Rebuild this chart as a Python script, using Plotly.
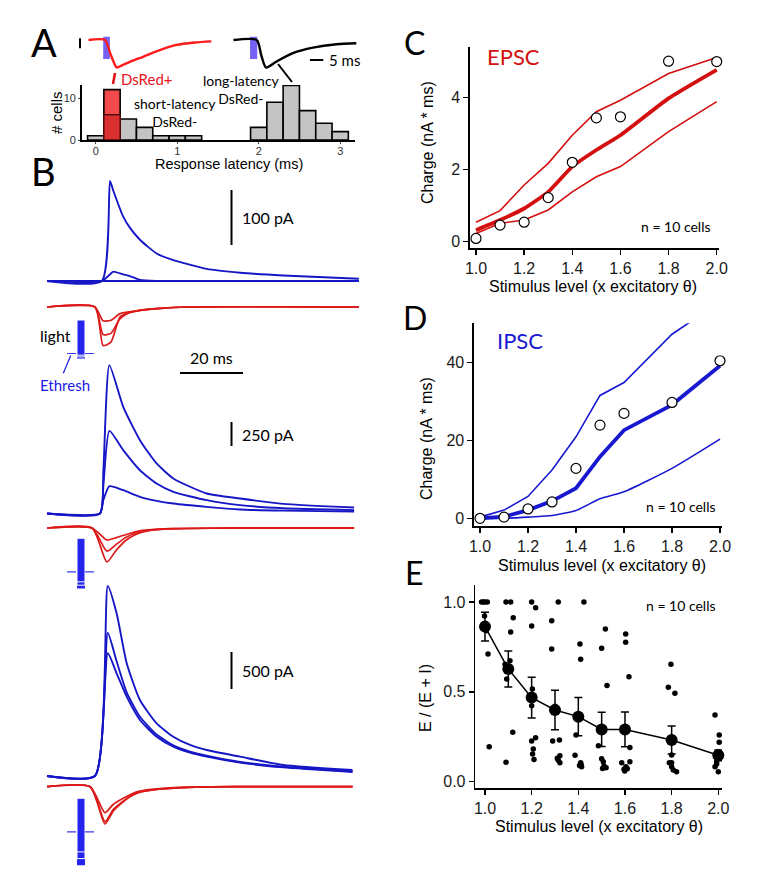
import plotly.graph_objects as go

W, H = 764, 883

# ======================= DATA =======================
# ---- Panel A: latency histogram (# cells per 0.2 ms bin) ----
HIST_CENTERS = [0.0, 0.4, 0.6, 0.8, 1.0, 1.2, 2.0, 2.2, 2.4, 2.6, 2.8, 3.0]
HIST_COUNTS = [1, 5, 3, 1, 1, 1, 3, 9, 13, 7, 4, 2]
DSRED_CENTER = [0.2]
DSRED_TOTAL = [12]
DSRED_LOWER = [6]
HIST_BIN_W = 0.2
HIST_XTICKS = [0, 1, 2, 3]
HIST_YTICKS = [0, 10]

# ---- Panel A: example responses (normalised current vs ms) ----
A_RED_T = [0, 6.3, 8.3, 10.7, 12.5, 16.0, 20.6, 26.9, 33.1, 40.0, 46.3]
A_RED_V = [0, 0, -0.5, -1.0, -0.93, -0.78, -0.61, -0.37, -0.18, -0.09, -0.05]
A_BLK_T = [0, 8.8, 10.5, 12.3, 16.3, 22.4, 29.9, 38.8, 46.3]
A_BLK_V = [0, 0, -0.55, -1.0, -0.78, -0.48, -0.28, -0.155, -0.12]
A_LIGHT_RED = [5.6, 8.1]
A_LIGHT_BLK = [6.3, 9.0]
A_TIME_BAR_MS = 5

# ---- Panel B: recorded currents (pA vs ms) ----
B1_T = [0, 17.4, 20.0, 21.0, 24.2, 26.3, 29.5, 34.8, 40.1, 50.7, 61.3, 75.0, 99.0]
B1_BIG = [0, 0, 182, 165, 117, 97, 75, 50, 38, 22, 15, 10, 4]
B1_SMALL = [0, 0, 12, 17, 12, 9, 2, 0, 0, 0, 0, 0, 0]
B1_FLAT = [0, 0, 0, 0, 0, 0, 0, 0, 0, 0, 0, 0, 0]
B1R_T = [0, 15.2, 17.8, 20.3, 23.2, 26.0, 29.5, 34.8, 45.0, 99.0]
B1R_BIG = [0, 0, -70, -64, -18, -10, -6, -3, 0, 0]
B1R_MID = [0, 0, -50, -48, -21, -11, -6, -3, 0, 0]
B1R_SMALL = [0, 0, -25, -24, -12, -9, -6, -3, 0, 0]

B2_T = [0, 16.8, 17.9, 19.8, 24.2, 29.5, 34.8, 40.1, 50.7, 61.3, 75.0, 97.5]
B2_BIG = [0, 0, 450, 1545, 1111, 764, 521, 365, 208, 156, 100, 62]
B2_MID = [0, 0, 300, 860, 660, 451, 313, 226, 139, 87, 55, 35]
B2_SMALL = [0, 0, 140, 285, 243, 174, 132, 104, 69, 42, 30, 20]
B2R_T = [0, 14.3, 19.0, 22.0, 25.0, 28.0, 32.0, 40.0, 60.0, 97.5]
B2R_BIG = [0, 0, -354, -230, -130, -70, -30, -8, 0, 0]
B2R_MID = [0, 0, -240, -170, -100, -55, -25, -7, 0, 0]
B2R_SMALL = [0, 0, -125, -100, -70, -40, -20, -6, 0, 0]

B3_T = [0, 15.2, 19.3, 22.1, 25.3, 29.5, 34.8, 40.1, 45.4, 50.7, 61.3, 75.0, 97.0]
B3_BIG = [0, 0, 2568, 2199, 1523, 1027, 712, 531, 419, 351, 261, 149, 81]
B3_MID = [0, 0, 1932, 1550, 1130, 800, 560, 415, 330, 275, 190, 125, 63]
B3_SMALL = [0, 0, 1658, 1388, 1072, 757, 531, 396, 315, 261, 180, 117, 54]
B3R_T = [0, 13.7, 18.4, 21.0, 24.2, 27.0, 29.5, 34.8, 45.0, 60.0, 97.0]
B3R_BIG = [0, 0, -504, -330, -203, -120, -75, -36, -8, 0, 0]
B3R_MID = [0, 0, -473, -310, -195, -115, -72, -35, -8, 0, 0]
B3R_SMALL = [0, 0, -351, -240, -157, -95, -60, -30, -7, 0, 0]

B_SCALE_PA = [100, 250, 500]
B_TIME_BAR_MS = 20
# light intensity (x threshold) for the three sweeps of each example
LIGHT_LEVELS = [[1.15, 1.10, 1.05], [1.50, 1.40, 1.30], [2.00, 1.80, 1.60]]
LIGHT_THRESH = 1.0

# ---- Panel C: EPSC charge ----
STIM = [1.0, 1.1, 1.2, 1.3, 1.4, 1.5, 1.6, 1.8, 2.0]
STIM_TICKS = [1.0, 1.2, 1.4, 1.6, 1.8, 2.0]
STIM_TICKTEXT = ["1.0", "1.2", "1.4", "1.6", "1.8", "2.0"]
C_MEDIAN = [0.09, 0.46, 0.54, 1.22, 2.2, 3.43, 3.46, 5.0, 4.99]
C_MEAN = [0.32, 0.6, 0.92, 1.38, 2.08, 2.54, 2.95, 3.97, 4.76]
C_UPPER = [0.54, 0.86, 1.57, 2.17, 2.95, 3.6, 3.92, 4.66, 5.1]
C_LOWER = [0.23, 0.51, 0.6, 0.88, 1.38, 1.8, 2.08, 3.05, 3.88]
C_YTICKS = [0, 2, 4]

# ---- Panel D: IPSC charge ----
D_MEDIAN = [0.0, 0.3, 2.4, 4.2, 12.8, 23.9, 26.9, 29.7, 40.4]
D_MEAN = [0.0, 0.4, 2.1, 4.4, 7.7, 15.8, 22.6, 29.1, 39.1]
D_UPPER = [0.3, 2.1, 5.6, 12.4, 20.9, 31.5, 34.8, 47.2, 55.5]
D_LOWER = [0.0, 0.0, 0.3, 0.7, 2.0, 5.0, 6.8, 12.8, 20.3]
D_YTICKS = [0, 20, 40]

# ---- Panel E: E/(E+I) ----
E_MEAN = [0.863, 0.627, 0.468, 0.399, 0.362, 0.291, 0.291, 0.232, 0.147]
E_SEM = [0.08, 0.10, 0.113, 0.11, 0.106, 0.095, 0.097, 0.078, 0.03]
E_YTICKS = [0.0, 0.5, 1.0]
E_YTICKTEXT = ["0.0", "0.5", "1.0"]
E_CELL_X = [
    [0.985, 0.993, 1.0, 1.01, 0.998, 0.99, 1.005, 1.0, 1.013, 1.018],
    [1.09, 1.11, 1.121, 1.11, 1.107, 1.086, 1.093, 1.119, 1.09, 1.1],
    [1.2, 1.217, 1.2, 1.203, 1.2, 1.217, 1.2, 1.207, 1.204, 1.21],
    [1.314, 1.286, 1.286, 1.29, 1.319, 1.321, 1.314, 1.321, 1.3, 1.31],
    [1.424, 1.407, 1.41, 1.4, 1.39, 1.386, 1.41, 1.414, 1.412, 1.405],
    [1.516, 1.5, 1.523, 1.486, 1.5, 1.507, 1.504, 1.519, 1.51, 1.5],
    [1.603, 1.603, 1.617, 1.621, 1.586, 1.621, 1.604, 1.596, 1.599, 1.61],
    [1.797, 1.786, 1.814, 1.8, 1.79, 1.8, 1.8, 1.807, 1.821, 1.8],
    [1.986, 2.004, 2.004, 1.993, 1.986, 2.0, 2.019, 2.007, 2.0, 1.993],
]
E_CELL_Y = [
    [1.0, 1.0, 1.0, 1.0, 0.922, 0.87, 0.84, 0.85, 0.71, 0.195],
    [1.0, 1.0, 0.913, 0.833, 0.673, 0.653, 0.571, 0.275, 0.108, 0.62],
    [1.0, 0.968, 0.866, 0.516, 0.423, 0.245, 0.226, 0.182, 0.154, 0.124],
    [1.0, 0.896, 0.738, 0.226, 0.232, 0.145, 0.12, 0.106, 0.42, 0.13],
    [1.0, 0.766, 0.681, 0.36, 0.26, 0.147, 0.106, 0.083, 0.096, 0.09],
    [0.85, 0.742, 0.536, 0.2, 0.128, 0.111, 0.074, 0.078, 0.087, 0.29],
    [0.822, 0.776, 0.584, 0.191, 0.106, 0.111, 0.083, 0.069, 0.059, 0.072],
    [0.653, 0.525, 0.492, 0.148, 0.106, 0.106, 0.083, 0.065, 0.056, 0.23],
    [0.371, 0.26, 0.219, 0.111, 0.083, 0.056, 0.111, 0.148, 0.167, 0.098],
]

# ======================= STYLE =======================
ARIAL = "Liberation Sans, Arial, sans-serif"
CAL = "Lato, Open Sans, sans-serif"
BLUE_TR = "#1616c6"
RED_TR = "#dc1a1a"
LIGHT_BLUE = "#2424ee"
RED_C = "#d40f0f"
BLUE_D = "#1818d0"

fig = go.Figure()
layout = dict(width=W, height=H, margin=dict(l=0, r=0, t=0, b=0),
              paper_bgcolor="white", plot_bgcolor="rgba(0,0,0,0)",
              showlegend=False, barmode="overlay")
ann = []
shapes = []


def xn(n):
    return "x" if n == 1 else f"x{n}"


def yn(n):
    return "y" if n == 1 else f"y{n}"


def PX(p):
    return p / W


def PY(p):
    return 1 - p / H


def axes(n, xdom, ydom, xmap, ymap, xkw=None, ykw=None):
    v, p, s = xmap
    xr = [v - (p - xdom[0]) / s, v + (xdom[1] - p) / s]
    v, p, s = ymap
    top = v + (p - ydom[0]) / s
    bot = v - (ydom[1] - p) / s
    xa = dict(domain=[PX(xdom[0]), PX(xdom[1])], range=xr, anchor=yn(n),
              visible=False, showgrid=False, zeroline=False, fixedrange=True,
              automargin=False)
    ya = dict(domain=[PY(ydom[1]), PY(ydom[0])], range=[bot, top], anchor=xn(n),
              visible=False, showgrid=False, zeroline=False, fixedrange=True,
              automargin=False)
    if xkw:
        xa.update(xkw)
    if ykw:
        ya.update(ykw)
    layout["xaxis" if n == 1 else f"xaxis{n}"] = xa
    layout["yaxis" if n == 1 else f"yaxis{n}"] = ya


def text(x, y, s, size, color="black", family=CAL, xanchor="center", angle=0,
         xref="paper", yref="paper"):
    ann.append(dict(x=PX(x) if xref == "paper" else x,
                    y=PY(y) if yref == "paper" else y,
                    xref=xref, yref=yref, text=s, showarrow=False,
                    xanchor=xanchor, yanchor="middle", textangle=angle,
                    font=dict(size=size, color=color, family=family)))


def pline(x0, y0, x1, y1, color="black", width=2, dash=None, xref="paper", yref="paper"):
    d = dict(type="line", xref=xref, yref=yref,
             x0=PX(x0) if xref == "paper" else x0, x1=PX(x1) if xref == "paper" else x1,
             y0=PY(y0) if yref == "paper" else y0, y1=PY(y1) if yref == "paper" else y1,
             line=dict(color=color, width=width))
    if dash:
        d["line"]["dash"] = dash
    shapes.append(d)


def line(n, xs, ys, color, width=1.8, shape="spline", smoothing=0.6):
    fig.add_trace(go.Scatter(x=xs, y=ys, mode="lines", xaxis=xn(n), yaxis=yn(n),
                             line=dict(color=color, width=width, shape=shape, smoothing=smoothing),
                             hoverinfo="skip"))


def sci_axis(tickvals, ticktext):
    return dict(visible=True, showline=True, linecolor="black", linewidth=1.6,
                ticks="outside", ticklen=5, tickwidth=1.5, tickcolor="black",
                tickvals=tickvals, ticktext=ticktext,
                tickfont=dict(family=ARIAL, size=16, color="#1a1a1a"))


# ======================= PANEL A =======================
axes(1, (81.7, 355), (85, 140), (0, 95.7, 81.5), (0, 140, 4.2),
     xkw=dict(visible=True, showline=True, linecolor="black", linewidth=1.6,
              ticks="outside", ticklen=2, tickwidth=1, tickvals=HIST_XTICKS,
              ticktext=[str(v) for v in HIST_XTICKS], ticklabelstandoff=-2,
              tickfont=dict(family=ARIAL, size=11, color="#333")),
     ykw=dict(visible=True, showline=True, linecolor="black", linewidth=1.6,
              ticks="outside", ticklen=2, tickwidth=1, tickvals=HIST_YTICKS,
              ticktext=[str(v) for v in HIST_YTICKS],
              tickfont=dict(family=ARIAL, size=11, color="#333")))
fig.add_trace(go.Bar(x=HIST_CENTERS, y=HIST_COUNTS, width=HIST_BIN_W, xaxis="x", yaxis="y",
                     marker=dict(color="#c4c4c4", line=dict(color="black", width=1.6)),
                     hoverinfo="skip"))
fig.add_trace(go.Bar(x=DSRED_CENTER, y=DSRED_TOTAL, width=HIST_BIN_W, xaxis="x", yaxis="y",
                     marker=dict(color="#f24a4a", line=dict(color="black", width=1.6)),
                     hoverinfo="skip"))
fig.add_trace(go.Bar(x=DSRED_CENTER, y=DSRED_LOWER, width=HIST_BIN_W, xaxis="x", yaxis="y",
                     marker=dict(color="#d83030", line=dict(color="#5a0a0a", width=1.4)),
                     hoverinfo="skip"))

A_PXMS = 13.3 / 5
axes(2, (88.3, 211.7), (30, 75), (0, 88.3, A_PXMS), (0, 40, 27.5))
axes(3, (233.3, 356.7), (30, 75), (0, 233.3, A_PXMS), (0, 40, 27.5))
line(2, A_RED_T, A_RED_V, "#ff1a1a", width=2.4, smoothing=0.7)
line(3, A_BLK_T, A_BLK_V, "black", width=2.4, smoothing=0.7)
for n, (t0, t1) in ((2, A_LIGHT_RED), (3, A_LIGHT_BLK)):
    shapes.append(dict(type="rect", xref=xn(n), yref="paper", x0=t0, x1=t1,
                       y0=PY(59), y1=PY(36.7), fillcolor="#7662f2",
                       line=dict(width=0), layer="below"))
pline(80, 38.3, 80, 48.3, width=2)
tb0 = (310 - 233.3) / A_PXMS
pline(tb0, 60, tb0 + A_TIME_BAR_MS, 60, width=2, xref="x3")
text(327, 60, f"{A_TIME_BAR_MS} ms", 15, xanchor="left")
pline(115, 73, 113, 84, color="#e01010", width=2.5)
pline(278, 64, 292, 82, color="black", width=2)
text(147, 79, "DsRed+", 15, color="#e8141c")
text(242, 89, "long-latency<br>DsRed-", 14)
text(174.5, 112, "short-latency<br>DsRed-", 14)
text(57, 113, "# cells", 15, family=ARIAL, angle=-90)
text(229, 164, "Response latency (ms)", 14.5, family=ARIAL)

# ======================= PANEL B =======================
B_PXMS = 3.15
BX = (40, 365)
groups = [
    (4, 5, (170, 300), (290, 362), 281, 307, 0.55),
    (6, 7, (355, 522), (518, 578), 513.5, 528, 0.096),
    (8, 9, (578, 786), (780, 832), 776, 786.7, 0.074),
]
for bn, rn, bdom, rdom, bbase, rbase, s in groups:
    axes(bn, BX, bdom, (0, 47, B_PXMS), (0, bbase, s))
    axes(rn, BX, rdom, (0, 47, B_PXMS), (0, rbase, s))

blue_sets = [(B1_T, [B1_FLAT, B1_SMALL, B1_BIG]), (B2_T, [B2_SMALL, B2_MID, B2_BIG]),
             (B3_T, [B3_SMALL, B3_MID, B3_BIG])]
red_sets = [(B1R_T, [B1R_SMALL, B1R_MID, B1R_BIG]), (B2R_T, [B2R_SMALL, B2R_MID, B2R_BIG]),
            (B3R_T, [B3R_SMALL, B3R_MID, B3R_BIG])]
for gi, (bn, rn, bdom, rdom, bbase, rbase, s) in enumerate(groups):
    t, sweeps = blue_sets[gi]
    for v in sweeps:
        line(bn, t, v, BLUE_TR, width=1.9, smoothing=0.55)
    t, sweeps = red_sets[gi]
    for v in sweeps:
        line(rn, t, v, RED_TR, width=1.7, smoothing=0.6)

bar_bottom_px = [245, 446, 689]
bar_x_ms = (231.5 - 47) / B_PXMS
lab_x_ms = (240 - 47) / B_PXMS
for gi, (bn, rn, bdom, rdom, bbase, rbase, s) in enumerate(groups):
    v0 = (bbase - bar_bottom_px[gi]) / s
    v1 = v0 + B_SCALE_PA[gi]
    pline(bar_x_ms, v0, bar_x_ms, v1, width=2, xref=xn(bn), yref=yn(bn))
    text(lab_x_ms, (v0 + v1) / 2, f"{B_SCALE_PA[gi]} pA", 16, xanchor="left",
         xref=xn(bn), yref=yn(bn))
tb = (180 - 47) / B_PXMS
pline(tb, 373, tb + B_TIME_BAR_MS, 373, width=2, xref="x5")
text(211.5, 357.5, f"{B_TIME_BAR_MS} ms", 16)

LIGHT_PX = 33.5
light_tops = [320, 538.3, 798.3]
for li, top in enumerate(light_tops):
    n = 10 + li
    axes(n, (61, 101), (top - 5, top + 75), (0, 81, 8), (0, top, -LIGHT_PX))
    for k, lvl in enumerate(LIGHT_LEVELS[li]):
        fig.add_trace(go.Bar(x=[0], y=[lvl], width=1, xaxis=xn(n), yaxis=yn(n),
                             marker=dict(color=LIGHT_BLUE,
                                         line=dict(color="white", width=0 if k == 0 else 1)),
                             hoverinfo="skip"))
    shapes.append(dict(type="line", xref=xn(n), yref=yn(n), x0=-1.75, x1=1.75,
                       y0=LIGHT_THRESH, y1=LIGHT_THRESH,
                       line=dict(color="#3a3af0", width=1.2, dash="dash")))
text(56, 335.5, "light", 16)
text(65, 385, "Ethresh", 15, color="#1a1ae6")
pline(63.3, 373.3, 70.7, 355.5, color="#1a1ae6", width=1.2)

# ======================= PANEL C =======================
axes(13, (470, 718.5), (46.7, 248), (1.0, 476, 240.7), (0, 241.7, 36.1),
     xkw=sci_axis(STIM_TICKS, STIM_TICKTEXT),
     ykw=sci_axis(C_YTICKS, [str(v) for v in C_YTICKS]))
line(13, STIM, C_UPPER, RED_C, width=1.6, shape="linear")
line(13, STIM, C_LOWER, RED_C, width=1.6, shape="linear")
line(13, STIM, C_MEAN, RED_C, width=3.8, shape="spline", smoothing=0.5)
fig.add_trace(go.Scatter(x=STIM, y=C_MEDIAN, mode="markers", xaxis="x13", yaxis="y13",
                         cliponaxis=False,
                         marker=dict(size=10, color="white", line=dict(color="black", width=1.2)),
                         hoverinfo="skip"))
text(485, 56.5, "EPSC", 22, color=RED_C, xanchor="left")
text(713, 226.7, "n = 10 cells", 14, xanchor="right")
text(427, 143, "Charge (nA * ms)", 16, family=ARIAL, angle=-90)
text(592.5, 286.7, "Stimulus level (x excitatory θ)", 16, family=ARIAL)

# ======================= PANEL D =======================
axes(14, (474, 722), (323.3, 526), (1.0, 480, 240), (0, 518.3, 3.9),
     xkw=sci_axis(STIM_TICKS, STIM_TICKTEXT),
     ykw=sci_axis(D_YTICKS, [str(v) for v in D_YTICKS]))
line(14, STIM, D_UPPER, BLUE_D, width=1.6, shape="linear")
line(14, STIM, D_LOWER, BLUE_D, width=1.6, shape="spline", smoothing=0.5)
line(14, STIM, D_MEAN, BLUE_D, width=3.8, shape="linear")
fig.add_trace(go.Scatter(x=STIM, y=D_MEDIAN, mode="markers", xaxis="x14", yaxis="y14",
                         cliponaxis=False,
                         marker=dict(size=10, color="white", line=dict(color="black", width=1.2)),
                         hoverinfo="skip"))
text(495, 340, "IPSC", 22, color=BLUE_D, xanchor="left")
text(718, 506.7, "n = 10 cells", 14, xanchor="right")
text(426, 439, "Charge (nA * ms)", 16, family=ARIAL, angle=-90)
text(602, 565, "Stimulus level (x excitatory θ)", 16, family=ARIAL)

# ======================= PANEL E =======================
axes(15, (475.3, 722), (585, 788.3), (1.0, 485, 233.3), (0, 781.7, 179.7),
     xkw=sci_axis(STIM_TICKS, STIM_TICKTEXT),
     ykw=sci_axis(E_YTICKS, E_YTICKTEXT))
ex = [v for row in E_CELL_X for v in row]
ey = [v for row in E_CELL_Y for v in row]
fig.add_trace(go.Scatter(x=ex, y=ey, mode="markers", xaxis="x15", yaxis="y15",
                         cliponaxis=False,
                         marker=dict(size=5.5, color="black"), hoverinfo="skip"))
fig.add_trace(go.Scatter(x=STIM, y=E_MEAN, mode="lines+markers", xaxis="x15", yaxis="y15",
                         cliponaxis=False,
                         line=dict(color="black", width=1.5),
                         marker=dict(size=12, color="black"),
                         error_y=dict(type="data", array=E_SEM, color="black",
                                      thickness=1.5, width=4),
                         hoverinfo="skip"))
text(718, 605, "n = 10 cells", 14, xanchor="right")
text(425, 698, "E / (E + I)", 16, family=ARIAL, angle=-90)
text(599, 826.7, "Stimulus level (x excitatory θ)", 16, family=ARIAL)

# ======================= PANEL LETTERS =======================
text(43.5, 42, "A", 38)
text(43, 171, "B", 38)
text(414, 43, "C", 32)
text(415, 317, "D", 32)
text(414, 572, "E", 32)

layout["annotations"] = ann
layout["shapes"] = shapes
fig.update_layout(**layout)
fig.write_html("out.html", config={"displayModeBar": False, "staticPlot": True},
               post_script="document.body.style.margin='0';document.body.style.padding='0';"
                           "document.documentElement.style.overflow='hidden';")
